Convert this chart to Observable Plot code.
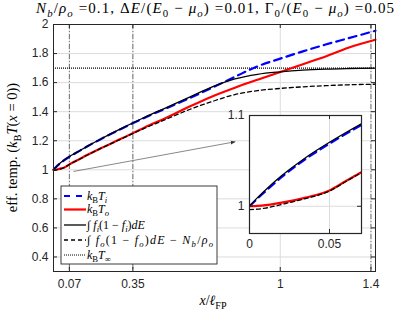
<!DOCTYPE html>
<html><head><meta charset="utf-8">
<script src="https://cdn.jsdelivr.net/npm/d3@7"></script>
<script src="https://cdn.jsdelivr.net/npm/@observablehq/plot@0.6"></script>
<style>
body{margin:0;background:#fff}
#c{position:relative;width:415px;height:312px;overflow:hidden}
#c svg{position:absolute;}
#c text.rt, #c text.rt tspan{font-family:'Liberation Serif','Times New Roman',serif;font-weight:normal;}
</style>
</head><body><div id="c"></div>
<script>
// ---- data ----
const xPos   = [0, 0.005, 0.01, 0.02, 0.035, 0.05, 0.06, 0.07, 0.085, 0.1, 0.15, 0.2, 0.3, 0.4, 0.5, 0.6, 0.7, 0.8, 0.9, 1.0, 1.1, 1.2, 1.3, 1.42];
const kTi    = [1.0, 1.0085, 1.0165, 1.032, 1.052, 1.069, 1.0795, 1.0895, 1.1035, 1.117, 1.162, 1.204, 1.283, 1.357, 1.425, 1.493, 1.565, 1.640, 1.712, 1.765, 1.815, 1.862, 1.905, 1.957];
const kTo    = [1.0, 1.0004, 1.0012, 1.004, 1.0095, 1.0175, 1.0275, 1.0375, 1.0505, 1.062, 1.103, 1.142, 1.215, 1.29, 1.36, 1.435, 1.505, 1.565, 1.62, 1.673, 1.727, 1.78, 1.84, 1.895];
const intFi  = [1.0, 1.0095, 1.018, 1.0335, 1.0535, 1.0705, 1.081, 1.091, 1.105, 1.118, 1.163, 1.205, 1.285, 1.36, 1.43, 1.50, 1.57, 1.625, 1.657, 1.674, 1.686, 1.693, 1.697, 1.700];
const intFo  = [0.9964, 0.9968, 0.998, 1.002, 1.0085, 1.0168, 1.027, 1.037, 1.049, 1.061, 1.102, 1.141, 1.213, 1.285, 1.35, 1.415, 1.47, 1.518, 1.545, 1.56, 1.571, 1.579, 1.585, 1.589];
const kTinf  = 1.7;
const xTicks = [0.07, 0.35, 1, 1.4];
const markX  = [0.07, 0.35, 1.4];
const yTicks = [0.4, 0.6, 0.8, 1, 1.2, 1.4, 1.6, 1.8, 2];
const insetXTicks = [0, 0.05];
const insetYTicks = [1, 1.1];

const series = [
  {key: "Ti", vals: kTi, stroke: "#0000ff", w: 2.2, dash: "8,5"},
  {key: "To", vals: kTo, stroke: "#ff0000", w: 2.2, dash: null},
  {key: "Fi", vals: intFi, stroke: "#000000", w: 1.3, dash: null},
  {key: "Fo", vals: intFo, stroke: "#000000", w: 1.3, dash: "4,3"}
];
const rows = s => xPos.map((x, i) => ({x, y: s.vals[i]}));

function lineMarks(clip) {
  return series.map(s => Plot.line(rows(s), {x: "x", y: "y", stroke: s.stroke, strokeWidth: s.w,
    strokeDasharray: s.dash, curve: "monotone-x", clip}));
}

const FONT = "'Liberation Sans', Arial, sans-serif";
const axisColor = "#262626";

// ---- main plot ----
const main = Plot.plot({
  width: 415, height: 312,
  marginLeft: 53, marginRight: 40, marginTop: 24, marginBottom: 41,
  style: {background: "none", fontFamily: FONT, fontSize: "12px", color: axisColor},
  x: {domain: [0, 1.42]},
  y: {domain: [0.3, 2]},
  marks: [
    Plot.gridX(xTicks, {stroke: "#dcdcdc", strokeOpacity: 1}),
    Plot.gridY(yTicks, {stroke: "#dcdcdc", strokeOpacity: 1}),
    Plot.ruleX(markX, {stroke: "#555", strokeWidth: 0.8, strokeDasharray: "5,2,1,2"}),
    Plot.ruleY([kTinf], {stroke: "#000", strokeWidth: 1.1, strokeDasharray: "1,1"}),
    ...lineMarks(false),
    Plot.tickX(xTicks, {stroke: axisColor, insetTop: 243}),
    Plot.tickX(xTicks, {stroke: axisColor, insetBottom: 243}),
    Plot.tickY(yTicks, {stroke: axisColor, insetRight: 318}),
    Plot.tickY(yTicks, {stroke: axisColor, insetLeft: 318}),
    Plot.axisX(xTicks, {tickSize: 0, tickPadding: 8, label: null, tickFormat: d => String(d), fill: axisColor}),
    Plot.axisY(yTicks, {tickSize: 0, tickPadding: 5, label: null, tickFormat: d => String(d), fill: axisColor}),
    Plot.frame({stroke: axisColor, strokeWidth: 1})
  ]
});
main.style.left = "0px"; main.style.top = "0px";
document.getElementById("c").appendChild(main);

const sx = main.scale("x"), sy = main.scale("y");
const svg = d3.select(main);

function rich(parent, segs, opts) {
  const t = parent.append("text").attr("class", "rt")
    .attr("x", opts.x).attr("y", opts.y)
    .style("font-size", opts.size + "px")
    .attr("fill", opts.fill || "#000")
    .attr("text-anchor", opts.anchor || "start");
  if (opts.rotate) t.attr("transform", `rotate(${opts.rotate},${opts.x},${opts.y})`);
  if (opts.length) t.attr("textLength", opts.length).attr("lengthAdjust", "spacing");
  let off = 0;
  for (const [txt, st = ""] of segs) {
    const sub = st.includes("s");
    const target = sub ? opts.size * 0.25 : 0;
    t.append("tspan").text(txt)
      .style("font-style", st.includes("i") ? "italic" : "normal")
      .style("font-size", (sub ? opts.size * 0.72 : opts.size) + "px")
      .attr("dy", target - off);
    off = target;
  }
  return t;
}

// title
rich(svg, [
  ["N", "i"], ["b", "is"], ["/"], ["ρ", "i"], ["o", "is"], [" =0.1, Δ"], ["E", "i"], ["/("], ["E", "i"], ["0", "s"], [" − "], ["μ", "i"], ["o", "is"], [") =0.01, Γ"], ["0", "s"], ["/("], ["E", "i"], ["0", "s"], [" − "], ["μ", "i"], ["o", "is"], [") =0.05"]
], {x: 215, y: 13, size: 15, anchor: "middle", length: 358});

// y label
rich(svg, [["eff. temp. ("], ["k", "i"], ["B", "s"], ["T", "i"], ["("], ["x", "i"], [" = 0))"]],
  {x: 17, y: 147.5, size: 14.5, anchor: "middle", rotate: -90});

// x label
rich(svg, [["x", "i"], ["/"], ["ℓ", "i"], ["FP", "s"]], {x: 213, y: 305, size: 14, anchor: "middle"});

// arrow
const defs = svg.append("defs");
defs.append("marker").attr("id", "ah").attr("viewBox", "0 0 10 10").attr("refX", 10).attr("refY", 5)
  .attr("markerWidth", 7).attr("markerHeight", 7).attr("orient", "auto")
  .append("path").attr("d", "M0,1 L10,5 L0,9 z").attr("fill", "#333");
svg.append("line")
  .attr("x1", sx.apply(0.09)).attr("y1", sy.apply(0.985))
  .attr("x2", sx.apply(0.805)).attr("y2", sy.apply(1.19))
  .attr("stroke", "#555").attr("stroke-width", 0.7).attr("marker-end", "url(#ah)");

// legend
const lg = svg.append("g");
lg.append("rect").attr("x", 61).attr("y", 186).attr("width", 156).attr("height", 78)
  .attr("fill", "#fff").attr("stroke", axisColor).attr("stroke-width", 0.9);
const legendItems = [
  {stroke: "#0000ff", w: 2.2, dash: "6,6", y: 196, segs: [["k", "i"], ["B", "s"], ["T", "i"], ["i", "is"]]},
  {stroke: "#ff0000", w: 2.2, dash: null, y: 209.5, segs: [["k", "i"], ["B", "s"], ["T", "i"], ["o", "is"]]},
  {stroke: "#000", w: 1.3, dash: null, y: 225, segs: [["∫ "], ["f", "i"], ["i", "is"], ["(1 − "], ["f", "i"], ["i", "is"], [")"], ["dE", "i"]]},
  {stroke: "#000", w: 1.3, dash: "4,3", y: 240, segs: [["∫ "], ["f", "i"], ["o", "is"], ["(1 − "], ["f", "i"], ["o", "is"], [")"], ["dE", "i"], [" − "], ["N", "i"], ["b", "is"], ["/"], ["ρ", "i"], ["o", "is"]], length: 126},
  {stroke: "#000", w: 1, dash: "1,1", y: 255, segs: [["k", "i"], ["B", "s"], ["T", "i"], ["∞", "s"]]}
];
for (const it of legendItems) {
  lg.append("line").attr("x1", 64).attr("x2", 86).attr("y1", it.y).attr("y2", it.y)
    .attr("stroke", it.stroke).attr("stroke-width", it.w).attr("stroke-dasharray", it.dash);
  rich(lg, it.segs, {x: 87, y: it.y + 3.5, size: 12, length: it.length});
}

// ---- inset ----
const iml = 22, imt = 9, imr = 3, imb = 18;
const inset = Plot.plot({
  width: 112 + iml + imr, height: 118 + imt + imb,
  marginLeft: iml, marginRight: imr, marginTop: imt, marginBottom: imb,
  style: {background: "none", fontFamily: FONT, fontSize: "12px", color: axisColor},
  x: {domain: [0, 0.07]},
  y: {domain: [0.97, 1.1]},
  marks: [
    Plot.frame({fill: "#fff", stroke: null}),
    Plot.gridX(insetXTicks, {stroke: "#dcdcdc", strokeOpacity: 1}),
    Plot.gridY(insetYTicks, {stroke: "#dcdcdc", strokeOpacity: 1}),
    ...lineMarks(true),
    Plot.tickX(insetXTicks, {stroke: axisColor, insetTop: 114}),
    Plot.tickX(insetXTicks, {stroke: axisColor, insetBottom: 114}),
    Plot.tickY(insetYTicks, {stroke: axisColor, insetRight: 108}),
    Plot.tickY(insetYTicks, {stroke: axisColor, insetLeft: 108}),
    Plot.axisX(insetXTicks, {tickSize: 0, tickPadding: 6, label: null, tickFormat: d => String(d), fill: axisColor}),
    Plot.axisY(insetYTicks, {tickSize: 0, tickPadding: 5, label: null, tickFormat: d => String(d), fill: axisColor}),
    Plot.frame({stroke: axisColor, strokeWidth: 1.2})
  ]
});
inset.style.left = (249 - iml) + "px";
inset.style.top = (115 - imt) + "px";
document.getElementById("c").appendChild(inset);
</script>
</body></html>
